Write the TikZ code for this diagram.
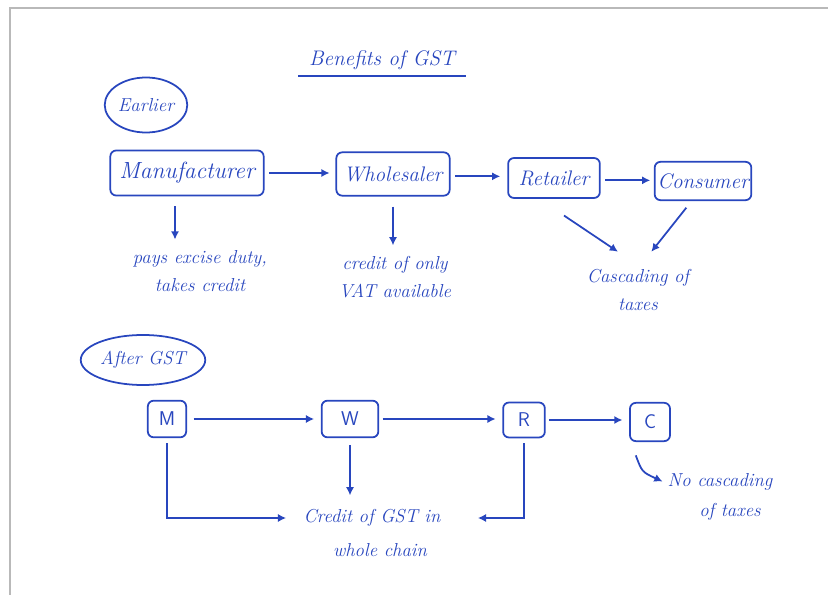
\documentclass[tikz,border=0pt]{standalone}
\usepackage{tikz}
\usetikzlibrary{arrows.meta,shapes.geometric}

\definecolor{ink}{RGB}{40,70,190}

\begin{document}
\begin{tikzpicture}[x=0.03cm,y=-0.03cm,
	hand/.style={text=ink, font=\fontsize{16}{24}\selectfont\itshape},
	box/.style={hand, draw=ink, line width=1.5pt, rounded corners=5pt, inner sep=2pt, font=\fontsize{18}{24}\selectfont\itshape},
	sbox/.style={draw=ink, text=ink, line width=1.5pt, rounded corners=5pt, font=\fontsize{17}{20}\selectfont\sffamily},
	oval/.style={hand, draw=ink, line width=1.5pt, ellipse, inner sep=1pt},
	lbl/.style={hand, align=center},
	arr/.style={ink, line width=1.5pt, -{Latex[length=7pt,width=7pt]}}]
		\useasboundingbox (0,0) rectangle (828,595);
		% frame
		\draw[gray!55, line width=2pt] (10,595) -- (10,8) -- (828,8);

		% title
		\node[hand, font=\fontsize{18}{24}\selectfont\itshape] (title) at (382,60) {Benefits of GST};
		\draw[ink, line width=1.5pt] ([xshift=-2mm,yshift=-2pt]title.south west) -- ([xshift=2mm,yshift=-2pt]title.south east);

		% earlier
		\node[oval, minimum width=2.1cm, minimum height=1.65cm] (earlier) at (146,105) {Earlier};
		\node[box, minimum width=4.6cm, minimum height=1.35cm, font=\fontsize{20}{24}\selectfont\itshape] (manu) at (187,173) {Manufacturer};
		\node[box, minimum width=3.4cm, minimum height=1.3cm] (whole) at (393,174) {Wholesaler};
		\node[box, minimum width=2.75cm, minimum height=1.2cm] (retail) at (554,178) {Retailer};
		\node[box, minimum width=2.9cm, minimum height=1.15cm] (cons) at (703,181) {Consumer};

		\draw[arr, shorten <=4pt, shorten >=5pt] (manu.east) -- (manu.east -| whole.west);
		\draw[arr, shorten <=4pt, shorten >=6pt] ([yshift=-2pt]whole.east) -- ([yshift=-2pt]whole.east -| retail.west);
		\draw[arr, shorten <=4pt, shorten >=3pt] ([yshift=-2pt]retail.east) -- ([yshift=-2pt]retail.east -| cons.west);

		\node[lbl] (pays) at (200,271) {pays excise duty,\\ takes credit};
		\node[lbl] (vat) at (395,277) {credit of only\\ VAT available};
		\node[lbl] (casc) at (638,290) {Cascading of\\ taxes};

		\coordinate (mdown) at ([xshift=-3.6mm]manu.south);
		\draw[arr, shorten <=3mm, shorten >=2mm] (mdown) -- (mdown |- pays.north);
		\draw[arr, shorten <=3mm, shorten >=2mm] (whole.south) -- (whole.south |- vat.north);
		\draw[arr] ([xshift=3mm,yshift=-5mm]retail.south) -- ([xshift=-6mm,yshift=4mm]casc.north);
		\draw[arr] ([xshift=-5mm,yshift=-2mm]cons.south) -- ([xshift=4mm,yshift=4mm]casc.north);

		% after gst
		\node[oval, minimum width=3.5cm, minimum height=1.5cm] (after) at (143,360) {After GST};
		\node[sbox, minimum width=1.15cm, minimum height=1.1cm] (M) at (167,419) {M};
		\node[sbox, minimum width=1.7cm, minimum height=1.1cm] (W) at (350,419) {W};
		\node[sbox, minimum width=1.25cm, minimum height=1.05cm] (R) at (524,420) {R};
		\node[sbox, minimum width=1.2cm, minimum height=1.15cm] (C) at (650,422) {C};

		\draw[arr, shorten <=2mm, shorten >=2mm] (M.east) -- (M.east -| W.west);
		\draw[arr, shorten <=1mm, shorten >=2mm] (W.east) -- (W.east -| R.west);
		\draw[arr, shorten <=1mm, shorten >=2mm] (R.east) -- (R.east -| C.west);

		\node[hand] (gst1) at (372,518) {Credit of GST in};
		\node[hand] (gst2) at (380,550) {whole chain};
		\node[hand] (nocas1) at (720,482) {No cascading};
		\node[hand] (nocas2) at (730,512) {of taxes};

		\draw[arr, shorten <=2mm, shorten >=3mm] (W.south) -- (W.south |- gst1.north);
		\draw[arr, shorten <=1.5mm, shorten >=4mm] (M.south) |- (gst1.west);
		\draw[arr, shorten <=1.5mm, shorten >=2mm] (R.south) |- ([xshift=8mm]gst1.east);
		\draw[arr, shorten >=1pt] ([xshift=2mm,yshift=-4mm]C.south west) .. controls (642,472) .. (nocas1.west);
	\end{tikzpicture}
\end{document}
